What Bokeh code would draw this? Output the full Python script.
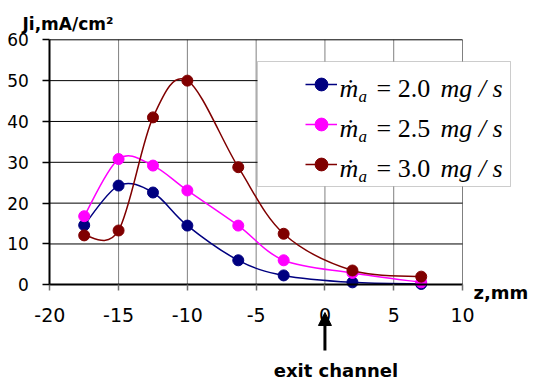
from bokeh.plotting import figure
from bokeh.models import (Range1d, FixedTicker, Label, Legend, LegendItem,
                          BoxAnnotation, Arrow, NormalHead)
from bokeh.embed import file_html
from bokeh.resources import INLINE

# ---- data ----
z_mm = [-17.5, -15, -12.5, -10, -6.3, -3, 2, 7]
ji_20 = [14.6, 24.3, 22.6, 14.5, 6.0, 2.3, 0.6, 0.2]
ji_25 = [16.8, 30.8, 29.2, 23.1, 14.5, 6.0, 2.9, 0.6]
ji_30 = [12.1, 13.3, 41.0, 50.0, 28.8, 12.5, 3.5, 2.0]
series_values = [ji_20, ji_25, ji_30]
flow_rates = ["2.0", "2.5", "3.0"]          # anode mass flow, mg/s
series_colors = ["#000080", "#FF00FF", "#800000"]
x_ticks = [-20, -15, -10, -5, 0, 5, 10]
y_ticks = [0, 10, 20, 30, 40, 50, 60]
exit_z = 0

# ---- layout (page pixels) ----
W, H = 533, 380
PX_LEFT, PX_RIGHT = 49.3, 462.0     # where the first / last x tick sit
PX_TOP, PX_BOTTOM = 39.3, 284.3     # where the last / first y tick sit
X0, X1 = x_ticks[0], x_ticks[-1]
Y0, Y1 = y_ticks[0], y_ticks[-1]
sx = (PX_RIGHT - PX_LEFT) / (X1 - X0)
sy = (PX_BOTTOM - PX_TOP) / (Y1 - Y0)

p = figure(width=W, height=H, output_backend="svg", toolbar_location=None,
           x_range=Range1d(X0 - PX_LEFT / sx, X1 + (W - PX_RIGHT) / sx),
           y_range=Range1d(Y0 - (H - PX_BOTTOM) / sy, Y1 + PX_TOP / sy),
           min_border=0)
p.outline_line_color = None
p.background_fill_color = "white"
p.border_fill_color = "white"
p.xgrid.visible = False
p.ygrid.visible = False

# grid lines limited to the data area
p.segment(x0=x_ticks[1:], y0=[Y0] * (len(x_ticks) - 1),
          x1=x_ticks[1:], y1=[Y1] * (len(x_ticks) - 1),
          line_color="#808080", line_width=1)
p.segment(x0=[X0] * (len(y_ticks) - 1), y0=y_ticks[1:],
          x1=[X1] * (len(y_ticks) - 1), y1=y_ticks[1:],
          line_color="black", line_width=1)

# axes crossing at the chart's origin
p.xaxis.fixed_location = Y0
p.yaxis.fixed_location = X0
p.xaxis.bounds = (X0, X1)
p.yaxis.bounds = (Y0, Y1)
p.xaxis.ticker = FixedTicker(ticks=x_ticks)
p.yaxis.ticker = FixedTicker(ticks=y_ticks)
p.xaxis.major_label_overrides = {t: str(t) for t in x_ticks}
p.yaxis.major_label_overrides = {t: str(t) for t in y_ticks}
for ax in (p.xaxis, p.yaxis):
    ax.axis_line_color = "black"
    ax.axis_line_width = 2
    ax.minor_tick_line_color = None
    ax.major_tick_in = 0
    ax.major_label_text_font = "DejaVu Sans"
    ax.major_label_text_color = "black"
p.xaxis.major_tick_out = 6
p.xaxis.major_tick_line_color = "#707070"
p.xaxis.major_tick_line_width = 1.5
p.xaxis.major_label_text_font_size = "19px"
p.xaxis.major_label_standoff = 17
p.yaxis.major_tick_out = 7
p.yaxis.major_tick_line_color = "black"
p.yaxis.major_tick_line_width = 1.5
p.yaxis.major_label_text_font_size = "17px"
p.yaxis.major_label_standoff = 14


def smooth_segments(xs, ys, t=1.0 / 6.0):
    n = len(xs)
    seg = {k: [] for k in ("x0", "y0", "x1", "y1", "cx0", "cy0", "cx1", "cy1")}
    for i in range(n - 1):
        ip = max(i - 1, 0)
        inx = min(i + 2, n - 1)
        seg["x0"].append(xs[i]); seg["y0"].append(ys[i])
        seg["x1"].append(xs[i + 1]); seg["y1"].append(ys[i + 1])
        seg["cx0"].append(xs[i] + (xs[i + 1] - xs[ip]) * t)
        seg["cy0"].append(ys[i] + (ys[i + 1] - ys[ip]) * t)
        seg["cx1"].append(xs[i + 1] - (xs[inx] - xs[i]) * t)
        seg["cy1"].append(ys[i + 1] - (ys[inx] - ys[i]) * t)
    return seg


items = []
for vals, col in zip(series_values, series_colors):
    s = smooth_segments(z_mm, vals)
    r_line = p.bezier(line_color=col, line_width=1.5, **s)
    r_pts = p.scatter(z_mm, vals, size=11, marker="circle",
                      fill_color=col, line_color=col)
    items.append(LegendItem(label="", renderers=[r_line, r_pts]))

# legend box (white, drawn over the grid)
LB_L, LB_R, LB_T, LB_B = 257, 510, 61, 186
box = BoxAnnotation(left=LB_L, right=LB_R, bottom=H - LB_B, top=H - LB_T,
                    left_units="screen", right_units="screen",
                    bottom_units="screen", top_units="screen",
                    fill_color="white", fill_alpha=1.0,
                    line_color="#555555", line_width=1)
p.add_layout(box)

ROW0, ROW_PITCH, GLYPH_H = 83.5, 40, 34
legend = Legend(items=items,
                location=(305, H - (ROW0 + 2 * ROW_PITCH + GLYPH_H / 2)),
                padding=0, margin=0, spacing=ROW_PITCH - GLYPH_H,
                glyph_width=32, glyph_height=GLYPH_H, label_height=GLYPH_H,
                label_width=1, label_standoff=0,
                label_text_font_size="10px",
                border_line_color=None, background_fill_alpha=0)
p.add_layout(legend)

# legend texts:  m-dot_a = r mg / s
SERIF = "Liberation Serif"
for i, rate in enumerate(flow_rates):
    base = H - (ROW0 + i * ROW_PITCH + 4.4)
    p.add_layout(Label(x=339, y=base, x_units="screen", y_units="screen",
                       text="ṁ", text_font=SERIF, text_font_style="italic",
                       text_font_size="26px", text_color="black",
                       text_baseline="alphabetic"))
    p.add_layout(Label(x=358, y=base - 7.8, x_units="screen", y_units="screen",
                       text="a", text_font=SERIF, text_font_style="italic",
                       text_font_size="17px", text_color="black",
                       text_baseline="alphabetic"))
    p.add_layout(Label(x=376, y=base, x_units="screen", y_units="screen",
                       text="= " + rate, text_font=SERIF,
                       text_font_style="normal",
                       text_font_size="26px", text_color="black",
                       text_baseline="alphabetic"))
    p.add_layout(Label(x=440, y=base, x_units="screen", y_units="screen",
                       text="mg / s", text_font=SERIF, text_font_style="italic",
                       text_font_size="26px", text_color="black",
                       text_baseline="alphabetic"))

# axis titles
p.add_layout(Label(x=22, y=H - 23, x_units="screen", y_units="screen",
                   text="Ji,mA/cm²", text_font="DejaVu Sans",
                   text_font_style="bold", text_font_size="17px",
                   text_color="black", text_baseline="alphabetic"))
p.add_layout(Label(x=PX_RIGHT + 11, y=H - 291.5, x_units="screen", y_units="screen",
                   text="z,mm", text_font="DejaVu Sans",
                   text_font_style="bold", text_font_size="18px",
                   text_color="black", text_baseline="alphabetic"))

# exit channel annotation
p.add_layout(Arrow(x_start=exit_z, y_start=Y0 - (350 - PX_BOTTOM) / sy,
                   x_end=exit_z, y_end=Y0 - (312 - PX_BOTTOM) / sy,
                   line_color="black", line_width=3,
                   end=NormalHead(size=13, fill_color="black", line_color="black")))
p.add_layout(Label(x=exit_z, y=H - 370, x_units="data", y_units="screen",
                   x_offset=11, text="exit channel", text_font="DejaVu Sans",
                   text_font_style="bold", text_font_size="18px",
                   text_color="black", text_align="center",
                   text_baseline="alphabetic"))

open("out.html", "w").write(file_html(p, INLINE))
